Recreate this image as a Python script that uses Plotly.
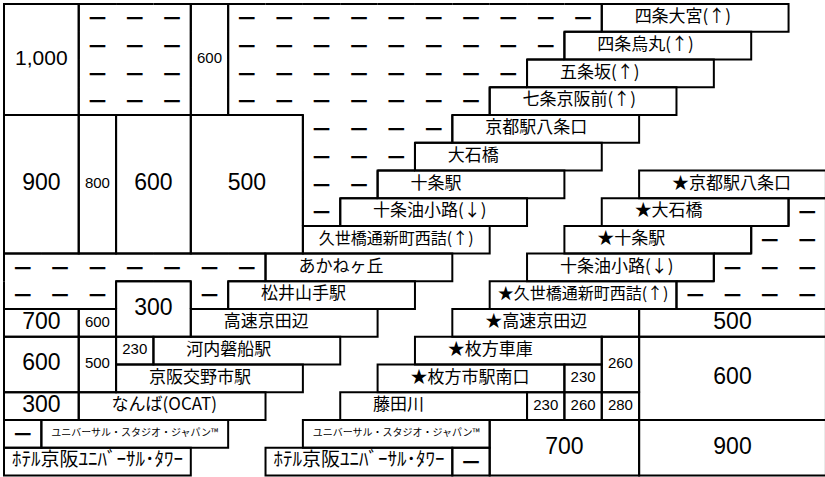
import plotly.graph_objects as go

# ---------------- data ----------------
# station name boxes: label, grid row, first grid column (each spans 5 columns)
station_names = [
    "四条大宮(↑)", "四条烏丸(↑)", "五条坂(↑)", "七条京阪前(↑)", "京都駅八条口",
    "大石橋", "十条駅", "十条油小路(↓)", "久世橋通新町西詰(↑)", "あかねヶ丘",
    "松井山手駅", "高速京田辺", "河内磐船駅", "京阪交野市駅", "なんば(OCAT)",
    "ユニバーサル・スタジオ・ジャパン™", "ﾎﾃﾙ京阪ﾕﾆﾊﾞｰｻﾙ･ﾀﾜｰ",
    "★京都駅八条口", "★大石橋", "★十条駅", "十条油小路(↓)", "★久世橋通新町西詰(↑)",
    "★高速京田辺", "★枚方車庫", "★枚方市駅南口", "藤田川",
    "ユニバーサル・スタジオ・ジャパン™", "ﾎﾃﾙ京阪ﾕﾆﾊﾞｰｻﾙ･ﾀﾜｰ",
]
station_rows = [0, 1, 2, 3, 4, 5, 6, 7, 8, 9, 10, 11, 12, 13, 14, 15, 16,
                6, 7, 8, 9, 10, 11, 12, 13, 14, 15, 16]
station_cols = [16, 15, 14, 13, 12, 11, 10, 9, 8, 7, 6, 5, 4, 3, 2, 1, 0,
                17, 16, 15, 14, 13, 12, 11, 10, 9, 8, 7]
STATION_SPAN = 5

# fare boxes (merged cells): label and grid span [col_start, col_end) x [row_start, row_end)
fare_labels = ["1,000", "600", "900", "800", "600", "500", "300", "700", "600", "230",
               "600", "500", "300", "－", "－", "500", "260", "600", "230", "230",
               "260", "280", "700", "900"]
fare_col_start = [0, 5, 0, 2, 3, 5, 3, 0, 2, 3, 0, 2, 0, 0, 12, 17, 16, 17, 15, 14, 15, 16, 13, 17]
fare_col_end   = [2, 6, 2, 3, 5, 8, 5, 2, 3, 4, 2, 3, 2, 1, 13, 22, 17, 22, 16, 15, 16, 17, 17, 22]
fare_row_start = [0, 0, 4, 4, 4, 4, 10, 11, 11, 12, 12, 12, 14, 15, 16, 11, 12, 12, 13, 14, 14, 14, 15, 15]
fare_row_end   = [4, 4, 9, 9, 9, 9, 12, 12, 12, 13, 14, 14, 15, 16, 17, 12, 14, 15, 14, 15, 15, 15, 17, 17]

# "no service" cells ("－"): row and inclusive column range
dash_rows = [0, 1, 2, 3, 0, 1, 2, 3, 4, 5, 6, 7, 9, 10, 10, 7, 8, 9, 10]
dash_from = [2, 2, 2, 2, 6, 6, 6, 6, 8, 8, 8, 8, 0, 0, 5, 21, 20, 19, 18]
dash_to   = [4, 4, 4, 4, 15, 14, 13, 12, 11, 10, 9, 8, 6, 2, 5, 21, 21, 21, 21]

# ---------------- styles ----------------
JP_FONT = "Noto Sans CJK JP"
NUM_FONT = "Liberation Sans, Arial, sans-serif"
LINE = dict(color="black", width=2)
CENTERED_NAMES = {"久世橋通新町西詰(↑)", "★久世橋通新町西詰(↑)",
                  "ユニバーサル・スタジオ・ジャパン™", "ﾎﾃﾙ京阪ﾕﾆﾊﾞｰｻﾙ･ﾀﾜｰ"}
NAME_SIZES = {"ユニバーサル・スタジオ・ジャパン™": 10, "ﾎﾃﾙ京阪ﾕﾆﾊﾞｰｻﾙ･ﾀﾜｰ": 19,
              "久世橋通新町西詰(↑)": 16, "★久世橋通新町西詰(↑)": 16}
INDENT = 0.88
DASH_SIZE = 22
DASH_DY = 0.1

fig = go.Figure()
shapes = []

# station boxes + labels
left_x, left_y, left_t, left_s = [], [], [], []
cen_x, cen_y, cen_t, cen_s = [], [], [], []
for name, r, c in zip(station_names, station_rows, station_cols):
    shapes.append(dict(type="rect", xref="x", yref="y", x0=c, x1=c + STATION_SPAN,
                       y0=r, y1=r + 1, line=LINE, fillcolor="rgba(0,0,0,0)"))
    size = NAME_SIZES.get(name, 17)
    if name in CENTERED_NAMES:
        cen_x.append(c + STATION_SPAN / 2); cen_y.append(r + 0.5); cen_t.append(name); cen_s.append(size)
    else:
        left_x.append(c + INDENT); left_y.append(r + 0.5); left_t.append(name); left_s.append(size)

fig.add_trace(go.Scatter(x=left_x, y=left_y, text=left_t, mode="text",
                         textposition="middle right",
                         textfont=dict(family=JP_FONT, size=left_s, color="black"),
                         hoverinfo="skip", cliponaxis=False))
fig.add_trace(go.Scatter(x=cen_x, y=cen_y, text=cen_t, mode="text",
                         textposition="middle center",
                         textfont=dict(family=JP_FONT, size=cen_s, color="black"),
                         hoverinfo="skip", cliponaxis=False))

# fare boxes + labels
fx, fy, ft, fs, ff = [], [], [], [], []
bx, by = [], []
for lab, c0, c1, r0, r1 in zip(fare_labels, fare_col_start, fare_col_end, fare_row_start, fare_row_end):
    shapes.append(dict(type="rect", xref="x", yref="y", x0=c0, x1=c1, y0=r0, y1=r1,
                       line=LINE, fillcolor="rgba(0,0,0,0)"))
    if lab == "－":
        bx.append((c0 + c1) / 2); by.append((r0 + r1) / 2 + DASH_DY)
        continue
    fx.append((c0 + c1) / 2); fy.append((r0 + r1) / 2); ft.append(lab)
    if c1 - c0 >= 2:
        fs.append(21 if len(lab) > 3 else 23)
    else:
        fs.append(15)
fig.add_trace(go.Scatter(x=fx, y=fy, text=ft, mode="text", textposition="middle center",
                         textfont=dict(family=NUM_FONT, size=fs, color="black"),
                         hoverinfo="skip", cliponaxis=False))

# dash cells + outline of their regions
cells = set()
for r, a, b in zip(dash_rows, dash_from, dash_to):
    for c in range(a, b + 1):
        cells.add((r, c))
dx = bx + [c + 0.5 for r, c in sorted(cells)]
dy = by + [r + 0.5 + DASH_DY for r, c in sorted(cells)]
fig.add_trace(go.Scatter(x=dx, y=dy, text=["－"] * len(dx), mode="text",
                         textposition="middle center",
                         textfont=dict(family=JP_FONT, size=DASH_SIZE, color="black",
                                       weight="bold"),
                         hoverinfo="skip", cliponaxis=False))
ex, ey = [], []
for r, c in cells:
    if (r - 1, c) not in cells:
        ex += [c, c + 1, None]; ey += [r, r, None]
    if (r + 1, c) not in cells:
        ex += [c, c + 1, None]; ey += [r + 1, r + 1, None]
    if (r, c - 1) not in cells:
        ex += [c, c, None]; ey += [r, r + 1, None]
    if (r, c + 1) not in cells:
        ex += [c + 1, c + 1, None]; ey += [r, r + 1, None]
fig.add_trace(go.Scatter(x=ex, y=ey, mode="lines", line=LINE, hoverinfo="skip"))

W, H = 825, 477
X0, CW = 4.0, 37.36
Y0, RH = 4.0, 27.735
fig.update_layout(
    width=W, height=H, margin=dict(l=0, r=0, t=0, b=0),
    paper_bgcolor="white", plot_bgcolor="white", showlegend=False,
    shapes=shapes,
    xaxis=dict(range=[-X0 / CW, (W - X0) / CW], visible=False, fixedrange=True),
    yaxis=dict(range=[(H - Y0) / RH, -Y0 / RH], visible=False, fixedrange=True),
)
fig.write_html("out.html", config={"displayModeBar": False},
               post_script="document.body.style.margin='0px';"
                           "document.body.style.overflow='hidden';")
